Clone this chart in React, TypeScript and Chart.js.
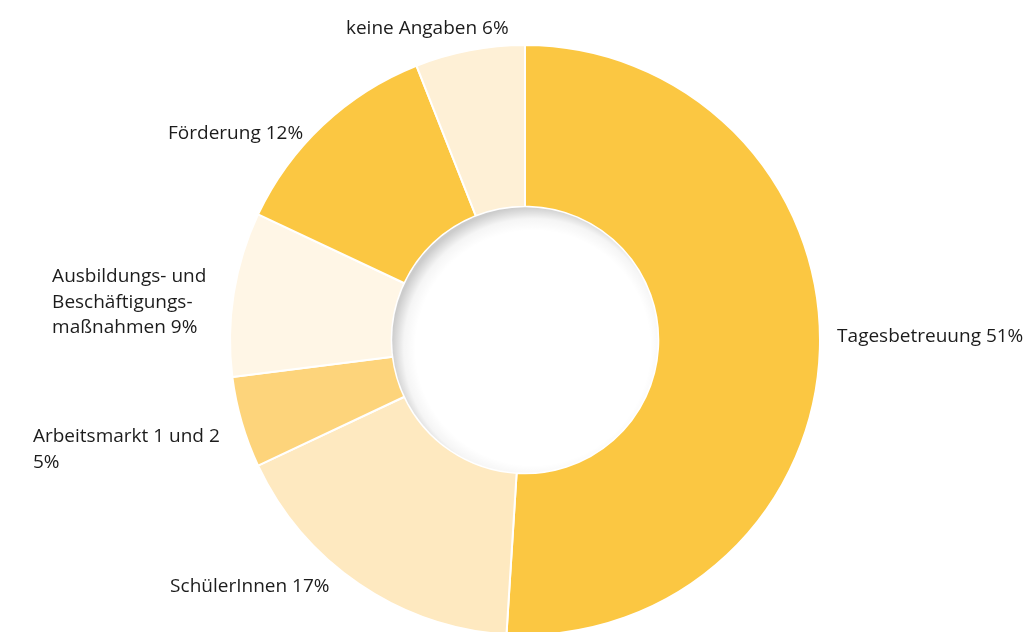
import React, { useEffect, useRef } from "react";
import { Chart, registerables } from "chart.js";

Chart.register(...registerables);

const categories = [
  "Tagesbetreuung",
  "SchülerInnen",
  "Arbeitsmarkt 1 und 2",
  "Ausbildungs- und Beschäftigungsmaßnahmen",
  "Förderung",
  "keine Angaben",
];
const shares = [51, 17, 5, 9, 12, 6];
const sliceColors = ["#FBC742", "#FEE9C0", "#FDD47B", "#FFF6E6", "#FBC742", "#FEF0D6"];
// label text lines as printed
const labelLines = [
  ["Tagesbetreuung 51%"],
  ["SchülerInnen 17%"],
  ["Arbeitsmarkt 1 und 2", "5%"],
  ["Ausbildungs- und", "Beschäftigungs-", "maßnahmen 9%"],
  ["Förderung 12%"],
  ["keine Angaben 6%"],
];
// label anchor (left x, first baseline y) relative to chart centre, in units of the outer radius
const labelAnchors = [
  [1.058, 0.007],
  [-1.203, 0.854],
  [-1.668, 0.346],
  [-1.603, -0.196],
  [-1.21, -0.682],
  [-0.607, -1.037],
];

const labelPlugin = {
  id: "outerLabels",
  afterDatasetsDraw(chart: any) {
    const meta = chart.getDatasetMeta(0);
    const arc0 = meta.data[0];
    if (!arc0) return;
    const { x: cx, y: cy, outerRadius: R, innerRadius: r } = arc0.getProps(
      ["x", "y", "outerRadius", "innerRadius"],
      true
    );
    const ctx = chart.ctx;
    // inner shadow in the hole (light from bottom-right)
    ctx.save();
    ctx.beginPath();
    ctx.arc(cx, cy, r - 0.5, 0, Math.PI * 2);
    ctx.clip();
    ctx.fillStyle = "#ffffff";
    ctx.fillRect(cx - r, cy - r, 2 * r, 2 * r);
    const off = 8;
    const g = ctx.createRadialGradient(cx + off, cy + off, r - 16, cx + off, cy + off, r + off);
    g.addColorStop(0, "rgba(0,0,0,0)");
    g.addColorStop(0.5, "rgba(0,0,0,0.04)");
    g.addColorStop(1, "rgba(0,0,0,0.2)");
    ctx.fillStyle = g;
    ctx.fillRect(cx - r, cy - r, 2 * r, 2 * r);
    ctx.restore();

    ctx.save();
    ctx.font = '19px "Open Sans"';
    ctx.fillStyle = "#1c1c1c";
    ctx.textAlign = "left";
    ctx.textBaseline = "alphabetic";
    labelLines.forEach((lines, i) => {
      const [fx, fy] = labelAnchors[i];
      const x = cx + fx * R;
      const y = cy + fy * R;
      lines.forEach((t, j) => ctx.fillText(t, x, y + j * 25.5));
    });
    ctx.restore();
  },
};

export default function App() {
  const ref = useRef<HTMLCanvasElement>(null);
  useEffect(() => {
    document.body.style.margin = "0";
    const chart = new Chart(ref.current!, {
      type: "doughnut",
      data: {
        labels: categories,
        datasets: [
          {
            data: shares,
            backgroundColor: sliceColors,
            borderColor: "#ffffff",
            borderWidth: 2,
            radius: 295,
            cutout: 131.5,
          } as any,
        ],
      },
      options: {
        animation: false,
        responsive: false,
        rotation: 0,
        layout: { padding: { left: 20, top: 48, right: 0, bottom: 0 } },
        plugins: { legend: { display: false }, tooltip: { enabled: false } },
      },
      plugins: [labelPlugin],
    });
    return () => chart.destroy();
  }, []);
  return (
    <div style={{ width: 1030, height: 632, overflow: "hidden", background: "#fff" }}>
      <canvas ref={ref} width={1030} height={632} />
    </div>
  );
}
